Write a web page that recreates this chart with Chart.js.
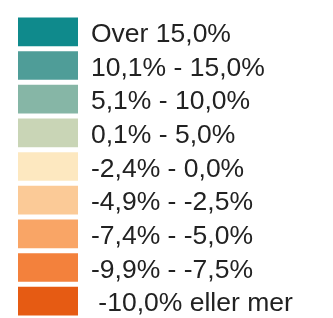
<!DOCTYPE html>
<html>
<head>
<meta charset="utf-8">
<script src="https://cdn.jsdelivr.net/npm/chart.js@4"></script>
<style>
  html, body { margin: 0; padding: 0; background: #fff; }
  #wrap { width: 333px; height: 318px; }
</style>
</head>
<body>
<div id="wrap"><canvas id="legendChart"></canvas></div>
<script>
// Klasser (etiketter) og farger
const klasser = [
    'Over 15,0%',
    '10,1% - 15,0%',
    '5,1% - 10,0%',
    '0,1% - 5,0%',
    '-2,4% - 0,0%',
    '-4,9% - -2,5%',
    '-7,4% - -5,0%',
    '-9,9% - -7,5%',
    ' -10,0% eller mer'
];
const farger = [
    '#0f8a8c', '#4f9d98', '#86b6a6', '#c9d5b6', '#fde8c0',
    '#fbca97', '#f9a566', '#f3813c', '#e65b13'
];
const verdier = [1, 1, 1, 1, 1, 1, 1, 1, 1];

const ctx = document.getElementById('legendChart').getContext('2d');
new Chart(ctx, {
    type: 'bar',
    data: {
        labels: klasser,
        datasets: [{
            data: verdier,
            backgroundColor: farger,
            barPercentage: 1,
            categoryPercentage: 0.85
        }]
    },
    options: {
        indexAxis: 'y',
        responsive: true,
        maintainAspectRatio: false,
        animation: false,
        layout: { padding: { left: 18, top: 15, bottom: 0, right: 0 } },
        plugins: { legend: { display: false }, tooltip: { enabled: false } },
        scales: {
            x: { display: false, min: 0, max: 1 },
            y: {
                position: 'right',
                grid: { display: false, drawTicks: false },
                border: { display: false },
                ticks: {
                    autoSkip: false,
                    padding: 13,
                    labelOffset: 3,
                    color: '#222',
                    font: { family: 'Liberation Sans, Arial', size: 26.5 }
                },
                afterFit: s => {
                    s.width = 255;
                    s.paddingTop = 0;
                    s.paddingBottom = 0;
                }
            }
        }
    }
});
</script>
</body>
</html>
